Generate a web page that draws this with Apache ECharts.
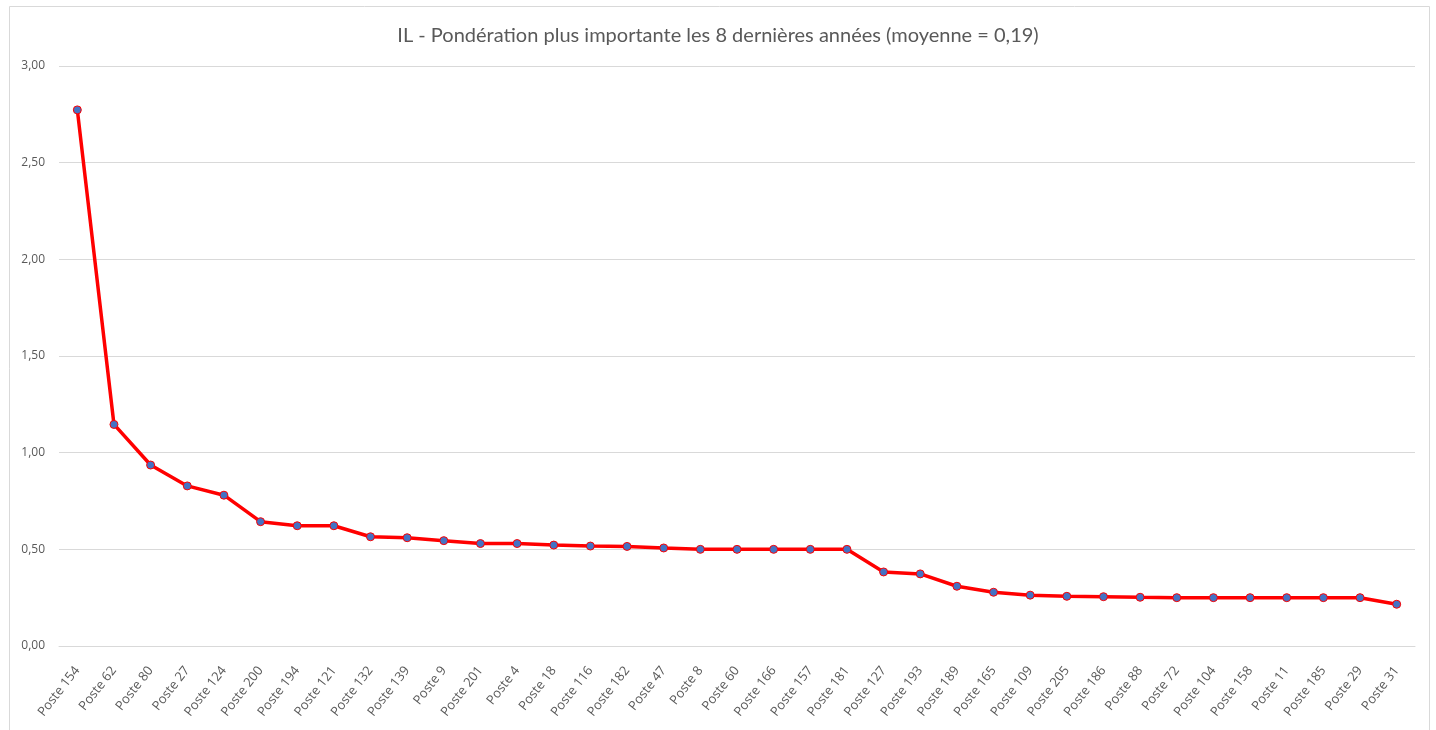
<!DOCTYPE html>
<html>
<head>
<meta charset="utf-8">
<script src="https://cdn.jsdelivr.net/npm/echarts@6/dist/echarts.min.js"></script>
<style>
html,body{margin:0;padding:0;background:#fff;}
#chart{width:1436px;height:730px;}
</style>
</head>
<body>
<div id="chart"></div>
<script>
const titleText = 'IL - Pondération plus importante les 8 dernières années (moyenne = 0,19)';
const categories = ['Poste 154','Poste 62','Poste 80','Poste 27','Poste 124','Poste 200','Poste 194','Poste 121','Poste 132','Poste 139','Poste 9','Poste 201','Poste 4','Poste 18','Poste 116','Poste 182','Poste 47','Poste 8','Poste 60','Poste 166','Poste 157','Poste 181','Poste 127','Poste 193','Poste 189','Poste 165','Poste 109','Poste 205','Poste 186','Poste 88','Poste 72','Poste 104','Poste 158','Poste 11','Poste 185','Poste 29','Poste 31'];
const values = [2.773,1.146,0.936,0.828,0.78,0.643,0.622,0.622,0.565,0.56,0.545,0.53,0.53,0.522,0.517,0.515,0.507,0.5,0.5,0.5,0.5,0.5,0.383,0.373,0.309,0.278,0.263,0.257,0.255,0.252,0.25,0.25,0.25,0.25,0.25,0.25,0.216];

const chart = echarts.init(document.getElementById('chart'), null, {renderer:'canvas'});
const fmt = v => v.toFixed(2).replace('.', ',');
chart.setOption({
  animation:false,
  backgroundColor:'#fff',
  graphic:[{type:'rect',shape:{x:9.5,y:6.5,width:1420,height:740},style:{fill:'none',stroke:'#d9d9d9',lineWidth:1},silent:true,z:-1}],
  title:{text:titleText,left:'center',top:21,textStyle:{color:'#595959',fontSize:20,fontWeight:'normal',fontFamily:'Lato'}},
  grid:{left:59,right:21,top:66,bottom:84,containLabel:false},
  xAxis:{type:'category',data:categories,boundaryGap:true,
    axisLine:{show:true,lineStyle:{color:'#d9d9d9',width:1}},
    axisTick:{show:false},
    axisLabel:{rotate:52,interval:0,color:'#595959',fontSize:13,fontFamily:'Open Sans',margin:22}},
  yAxis:{type:'value',min:0,max:3,interval:0.5,
    axisLine:{show:false},axisTick:{show:false},
    splitLine:{lineStyle:{color:'#d9d9d9',width:1}},
    axisLabel:{formatter:fmt,color:'#595959',fontSize:12,fontFamily:'Open Sans',margin:14}},
  series:[{type:'line',data:values,symbol:'circle',symbolSize:8,
    lineStyle:{color:'#ff0000',width:3.5},
    itemStyle:{color:'#4472c4',borderColor:'#ff0000',borderWidth:1}}]
});
</script>
</body>
</html>
